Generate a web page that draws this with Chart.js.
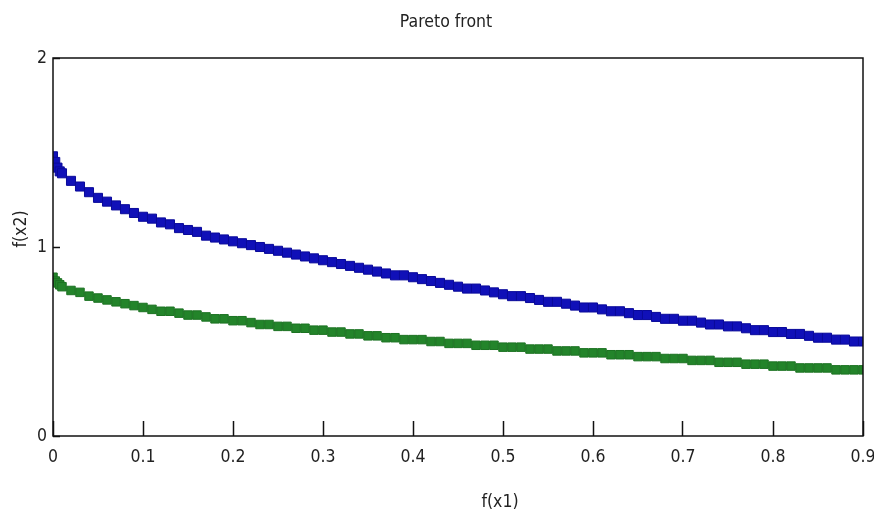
<!DOCTYPE html>
<html>
<head>
<meta charset="utf-8">
<script src="https://cdn.jsdelivr.net/npm/chart.js@4/dist/chart.umd.min.js"></script>
<style>
  html, body { margin: 0; padding: 0; background: #fff; }
  #wrap { width: 874px; height: 513px; }
</style>
</head>
<body>
<div id="wrap"><canvas id="c" width="874" height="513"></canvas></div>
<script>
const chartTitle = 'Pareto front';
const xAxisTitle = 'f(x1)';
const yAxisTitle = 'f(x2)';

const xValues = [0.00,0.0025,0.005,0.0075,0.01,0.02,0.03,0.04,0.05,0.06,0.07,0.08,0.09,0.10,0.11,0.12,0.13,0.14,0.15,0.16,0.17,0.18,0.19,0.20,0.21,0.22,0.23,0.24,0.25,0.26,0.27,0.28,0.29,0.30,0.31,0.32,0.33,0.34,0.35,0.36,0.37,0.38,0.39,0.40,0.41,0.42,0.43,0.44,0.45,0.46,0.47,0.48,0.49,0.50,0.51,0.52,0.53,0.54,0.55,0.56,0.57,0.58,0.59,0.60,0.61,0.62,0.63,0.64,0.65,0.66,0.67,0.68,0.69,0.70,0.71,0.72,0.73,0.74,0.75,0.76,0.77,0.78,0.79,0.80,0.81,0.82,0.83,0.84,0.85,0.86,0.87,0.88,0.89,0.90];

const blueFront = [1.48,1.45,1.42,1.40,1.39,1.35,1.32,1.29,1.26,1.24,1.22,1.20,1.18,1.16,1.15,1.13,1.12,1.10,1.09,1.08,1.06,1.05,1.04,1.03,1.02,1.01,1.00,0.99,0.98,0.97,0.96,0.95,0.94,0.93,0.92,0.91,0.90,0.89,0.88,0.87,0.86,0.85,0.85,0.84,0.83,0.82,0.81,0.80,0.79,0.78,0.78,0.77,0.76,0.75,0.74,0.74,0.73,0.72,0.71,0.71,0.70,0.69,0.68,0.68,0.67,0.66,0.66,0.65,0.64,0.64,0.63,0.62,0.62,0.61,0.61,0.60,0.59,0.59,0.58,0.58,0.57,0.56,0.56,0.55,0.55,0.54,0.54,0.53,0.52,0.52,0.51,0.51,0.50,0.50];

const greenFront = [0.84,0.82,0.81,0.80,0.79,0.77,0.76,0.74,0.73,0.72,0.71,0.70,0.69,0.68,0.67,0.66,0.66,0.65,0.64,0.64,0.63,0.62,0.62,0.61,0.61,0.60,0.59,0.59,0.58,0.58,0.57,0.57,0.56,0.56,0.55,0.55,0.54,0.54,0.53,0.53,0.52,0.52,0.51,0.51,0.51,0.50,0.50,0.49,0.49,0.49,0.48,0.48,0.48,0.47,0.47,0.47,0.46,0.46,0.46,0.45,0.45,0.45,0.44,0.44,0.44,0.43,0.43,0.43,0.42,0.42,0.42,0.41,0.41,0.41,0.40,0.40,0.40,0.39,0.39,0.39,0.38,0.38,0.38,0.37,0.37,0.37,0.36,0.36,0.36,0.36,0.35,0.35,0.35,0.35];

const xTicks = [0,0.1,0.2,0.3,0.4,0.5,0.6,0.7,0.8,0.9];
const yTicks = [0,1,2];

const FONT = '"DejaVu Sans Condensed", "Liberation Sans Narrow", "Liberation Sans", sans-serif';
const TEXT = '#222';
const FS = 17.5;

const toPoints = (ys) => xValues.map((x, i) => ({ x: x, y: ys[i] }));

const frameAndText = {
  id: 'frameAndText',
  afterDraw(chart) {
    const { ctx, chartArea: a } = chart;
    ctx.save();
    ctx.strokeStyle = '#111';
    ctx.lineWidth = 1.5;
    ctx.strokeRect(a.left, a.top, a.right - a.left, a.bottom - a.top);
    ctx.fillStyle = TEXT;
    ctx.font = FS + 'px ' + FONT;
    ctx.textAlign = 'center';
    ctx.textBaseline = 'middle';
    ctx.fillText(chartTitle, 446, 22);
    ctx.fillText(xAxisTitle, 500, 502);
    ctx.translate(21, 229);
    ctx.rotate(-Math.PI / 2);
    ctx.fillText(yAxisTitle, 0, 0);
    ctx.restore();
  }
};

new Chart(document.getElementById('c'), {
  type: 'scatter',
  data: {
    datasets: [
      {
        label: 'front 1',
        data: toPoints(blueFront),
        pointStyle: 'rect',
        pointRadius: 6.4,
        backgroundColor: '#1010b8',
        borderColor: '#0a0a9a',
        borderWidth: 1,
        showLine: false
      },
      {
        label: 'front 2',
        data: toPoints(greenFront),
        pointStyle: 'rect',
        pointRadius: 6,
        backgroundColor: '#23842a',
        borderColor: '#1c7222',
        borderWidth: 1,
        showLine: false
      }
    ]
  },
  options: {
    responsive: false,
    animation: false,
    events: [],
    layout: { padding: { top: 58, right: 11, left: 0, bottom: 0 } },
    plugins: {
      legend: { display: false },
      title: { display: false },
      tooltip: { enabled: false }
    },
    scales: {
      x: {
        type: 'linear',
        min: 0,
        max: 0.9,
        afterBuildTicks: (s) => { s.ticks = xTicks.map(v => ({ value: v })); },
        afterFit: (s) => { s.height = 77; s.paddingLeft = 0; s.paddingRight = 0; },
        ticks: {
          color: TEXT,
          font: { family: FONT, size: FS },
          padding: 26,
          maxRotation: 0,
          callback: (v) => String(v)
        },
        grid: {
          drawOnChartArea: false,
          tickLength: -15,
          tickColor: '#111',
          tickWidth: 1.5
        },
        border: { display: false }
      },
      y: {
        type: 'linear',
        min: 0,
        max: 2,
        afterBuildTicks: (s) => { s.ticks = yTicks.map(v => ({ value: v })); },
        afterFit: (s) => { s.width = 53; s.paddingTop = 0; s.paddingBottom = 0; },
        ticks: {
          color: TEXT,
          font: { family: FONT, size: FS },
          padding: 13,
          callback: (v) => String(v)
        },
        grid: {
          drawOnChartArea: false,
          tickLength: -7,
          tickColor: '#111',
          tickWidth: 1.5
        },
        border: { display: false }
      }
    }
  },
  plugins: [frameAndText]
});
</script>
</body>
</html>
